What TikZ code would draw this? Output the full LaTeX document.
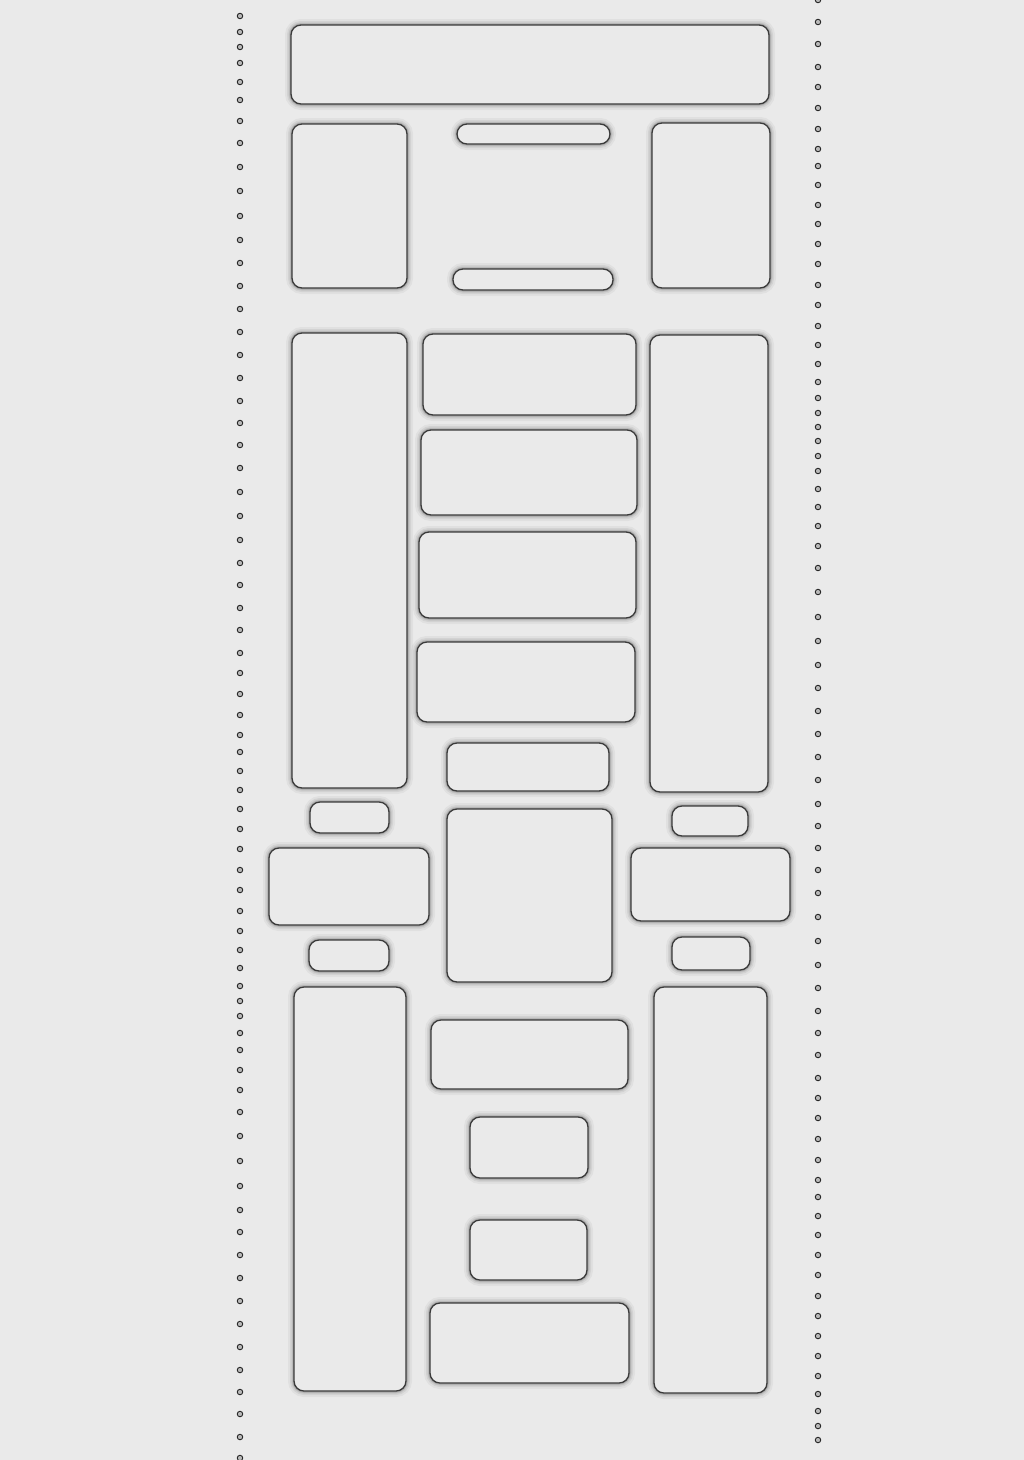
\documentclass[tikz,border=0pt]{standalone}
\usetikzlibrary{calc}
\definecolor{bg}{HTML}{EAEAEA}
\definecolor{edge}{HTML}{3A3A3A}
\tikzset{
  box/.style={draw=edge, fill=bg, line width=1.3pt, rounded corners=10pt, inner sep=0pt, outer sep=0pt,
    preaction={draw=black, opacity=0.04, line width=12pt},
    preaction={draw=black, opacity=0.06, line width=8pt},
    preaction={draw=black, opacity=0.08, line width=5pt},
    preaction={draw=black, opacity=0.12, line width=3pt}},
  dotmark/.style={circle, draw=black!85, fill=gray!55, line width=0.9pt, minimum size=5.5pt, inner sep=0pt}
}
\newcommand{\bx}[5]{\node[box, minimum width={(#4-#2)*1pt}, minimum height={(#5-#3)*1pt}] (#1) at ({(#2+#4)/2},{(#3+#5)/2}) {};}
\begin{document}
\begin{tikzpicture}[x=1pt,y=-1pt]
\fill[bg] (0,0) rectangle (1024,1460);
\useasboundingbox (0,0) rectangle (1024,1460);
\foreach \y in {16,32,47,63,82,100,121,143,167,191,216,240,263,286,309,332,355,378,401,423,445,468,492,516,540,563,585,608,630,653,673,694,715,735,752,771,790,809,829,849,870,890,911,931,950,968,986,1001,1016,1033,1050,1070,1090,1112,1136,1161,1186,1210,1232,1255,1278,1301,1324,1347,1370,1392,1414,1437,1458}
  \node[dotmark] (dl\y) at (240,\y) {};
\foreach \y in {0,22,44,67,87,108,129,149,166,185,205,224,244,264,285,305,326,345,364,382,398,413,427,441,456,471,489,507,526,546,568,592,617,641,665,688,711,734,757,780,804,826,848,870,893,917,941,965,988,1011,1033,1055,1078,1098,1118,1139,1160,1180,1197,1216,1235,1255,1275,1296,1316,1336,1356,1376,1394,1411,1426,1440}
  \node[dotmark] (dr\y) at (818,\y) {};
\bx{top}{291}{25}{769}{104}
\bx{lu}{292}{124}{407}{288}
\bx{pa}{457}{124}{610}{144}
\bx{pb}{453}{269}{613}{290}
\bx{ru}{652}{123}{770}{288}
\bx{lt}{292}{333}{407}{788}
\bx{ma}{423}{334}{636}{415}
\bx{mb}{421}{430}{637}{515}
\bx{mc}{419}{532}{636}{618}
\bx{md}{417}{642}{635}{722}
\bx{me}{447}{743}{609}{791}
\bx{rt}{650}{335}{768}{792}
\bx{sla}{310}{802}{389}{833}
\bx{sra}{672}{806}{748}{836}
\bx{lm}{269}{848}{429}{925}
\bx{cm}{447}{809}{612}{982}
\bx{rm}{631}{848}{790}{921}
\bx{slb}{309}{940}{389}{971}
\bx{srb}{672}{937}{750}{970}
\bx{lb}{294}{987}{406}{1391}
\bx{rb}{654}{987}{767}{1393}
\bx{ca}{431}{1020}{628}{1089}
\bx{cb}{470}{1117}{588}{1178}
\bx{cc}{470}{1220}{587}{1280}
\bx{cd}{430}{1303}{629}{1383}
\end{tikzpicture}
\end{document}
